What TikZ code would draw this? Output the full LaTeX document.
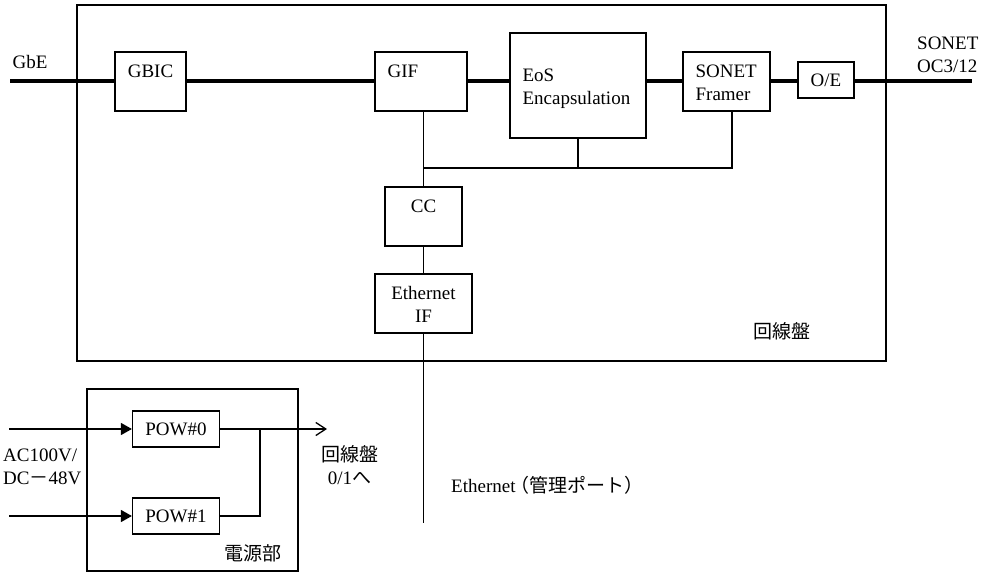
\documentclass[tikz,border=0pt]{standalone}
\usepackage{fontspec}
\setmainfont{Liberation Serif}
\newfontfamily\jp{Noto Sans CJK JP}
\usetikzlibrary{arrows.meta,positioning,calc}

\begin{document}
\begin{tikzpicture}[x=1pt,y=-1pt,
  every node/.style={font=\fontsize{19}{23}\selectfont,inner sep=0pt},
  blk/.style={draw,line width=1.2pt},
  bus/.style={line width=4pt},
  wire/.style={line width=1.3pt},
  intop/.style={anchor=north,yshift=-13.5pt,align=center},
  inleft/.style={anchor=north west,xshift=13pt,yshift=-13.5pt,align=left}]
  \useasboundingbox (0,0) rectangle (981,572);

  % line card
  \node[blk,minimum width=809,minimum height=356] (board) at (481.5,183) {};
  \node (boardlbl) at (781.5,331) {\jp 回線盤};

  \node[blk,minimum width=71,minimum height=59,label={[intop]north:GBIC}] (gbic) at (150.5,81.5) {};
  \node[blk,minimum width=92,minimum height=59,label={[inleft]north west:GIF}] (gif) at (421,81.5) {};
  \node[blk,minimum width=136,minimum height=105,label={[inleft,yshift=-23pt]north west:EoS\\Encapsulation}] (eos) at (578,85.5) {};
  \node[blk,minimum width=87,minimum height=59,label={[inleft]north west:SONET\\Framer}] (framer) at (726.5,81.5) {};
  \node[blk,minimum width=56,minimum height=36] (oe) at (826,80) {O/E};
  \node[blk,minimum width=77,minimum height=59,label={[intop,yshift=0.5pt]north:CC}] (cc) at (423.5,216.5) {};
  \node[blk,minimum width=97,minimum height=59,label={[intop,yshift=1pt]north:Ethernet\\IF}] (ethif) at (423.5,303.5) {};

  \coordinate (gbe) at (10,81.5);
  \coordinate (sonet) at (972,81.5);
  \coordinate (jn) at (423.5,168);
  \coordinate (mgmt) at (423.5,523);
  \node[anchor=west] (gbelbl) at (12.5,62) {GbE};
  \node[anchor=north west,align=left] (sonetlbl) at (917,37) {SONET\\OC3/12};
  \node[anchor=west] (mgmtlbl) at (451,485) {Ethernet{\jp\kern-5pt（管理ポート）}};

  \draw[bus] (gbe) -- (gbic);
  \draw[bus] (gbic) -- (gif);
  \draw[bus] (gif.east) -- (gif.east -| eos.west);
  \draw[bus] (eos.east |- framer) -- (framer);
  \draw[bus] (framer.east) -- (framer.east -| oe.west);
  \draw[bus] (framer.east -| oe.east) -- (sonet);

  \draw[wire] (cc.north |- gif.south) -- (cc.north);
  \draw[wire] (jn) -- ([xshift=5.5pt]framer.south |- jn) -- ([xshift=5.5pt]framer.south);
  \draw[wire] (eos.south) -- (eos.south |- jn);
  \draw[wire] (cc.south) -- (ethif.north);
  \draw[wire] (ethif.south) -- (mgmt);

  % power unit
  \node[blk,minimum width=211,minimum height=182] (pwr) at (192.5,480) {};
  \node (pwrlbl) at (252.5,553) {\jp 電源部};
  \node[blk,minimum width=87,minimum height=36] (pow0) at (176,429) {POW\#0};
  \node[blk,minimum width=87,minimum height=36] (pow1) at (176,516) {POW\#1};

  \coordinate (in0) at (9,429);
  \coordinate (in1) at (9,516);
  \coordinate (out) at (327,429);
  \coordinate (jp) at (260,429);
  \node[anchor=north west,align=left] (acdc) at (3,449) {AC100V/\\DC{\jp －}48V};
  \node[align=center] (outlbl) at (349.5,465) {{\jp 回線盤}\\0/1{\jp へ}};

  \draw[wire,-{Triangle[length=11pt,width=12pt]}] (in0) -- (pow0);
  \draw[wire,-{Triangle[length=11pt,width=12pt]}] (in1) -- (pow1);
  \draw[wire,-{Straight Barb[length=10pt,width=13pt]}] (pow0) -- (out);
  \draw[wire] (pow1) -| (jp);
\end{tikzpicture}
\end{document}
